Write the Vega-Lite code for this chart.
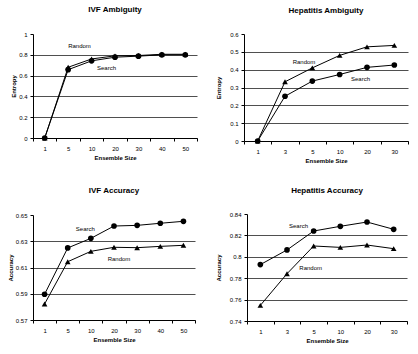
{
  "$schema": "https://vega.github.io/schema/vega-lite/v6.json",
  "padding": {"left": 7, "top": 6, "right": 5, "bottom": 5},
  "background": "white",
  "config": {
    "font": "Liberation Sans",
    "view": {"stroke": null},
    "title": {"fontSize": 8, "fontWeight": "bold", "color": "black", "offset": 17},
    "axis": {
      "labelFontSize": 6, "labelColor": "black", "titleFontSize": 6, "titleFontWeight": "bold", "titleColor": "black",
      "domainColor": "black", "tickColor": "black", "tickSize": 3, "domainWidth": 1, "tickWidth": 1,
      "gridColor": "#222", "gridWidth": 0.8
    },
    "axisY": {"format": "~g", "gridOpacity": {"condition": {"test": "datum.index === 1", "value": 0}, "value": 1}},
    "point": {"filled": true, "color": "black", "opacity": 1},
    "line": {"color": "black", "strokeWidth": 1},
    "text": {"fontSize": 6, "color": "black"}
  },
  "datasets": {
    "ivfAmb": [
      {"size": 1, "value": 0, "series": "Random"},
      {"size": 5, "value": 0.68, "series": "Random"},
      {"size": 10, "value": 0.76, "series": "Random"},
      {"size": 20, "value": 0.79, "series": "Random"},
      {"size": 30, "value": 0.793, "series": "Random"},
      {"size": 40, "value": 0.805, "series": "Random"},
      {"size": 50, "value": 0.805, "series": "Random"},
      {"size": 1, "value": 0, "series": "Search"},
      {"size": 5, "value": 0.657, "series": "Search"},
      {"size": 10, "value": 0.742, "series": "Search"},
      {"size": 20, "value": 0.777, "series": "Search"},
      {"size": 30, "value": 0.787, "series": "Search"},
      {"size": 40, "value": 0.8, "series": "Search"},
      {"size": 50, "value": 0.8, "series": "Search"}
    ],
    "hepAmb": [
      {"size": 1, "value": 0, "series": "Random"},
      {"size": 3, "value": 0.332, "series": "Random"},
      {"size": 5, "value": 0.41, "series": "Random"},
      {"size": 10, "value": 0.48, "series": "Random"},
      {"size": 20, "value": 0.528, "series": "Random"},
      {"size": 30, "value": 0.536, "series": "Random"},
      {"size": 1, "value": 0, "series": "Search"},
      {"size": 3, "value": 0.251, "series": "Search"},
      {"size": 5, "value": 0.336, "series": "Search"},
      {"size": 10, "value": 0.373, "series": "Search"},
      {"size": 20, "value": 0.413, "series": "Search"},
      {"size": 30, "value": 0.426, "series": "Search"}
    ],
    "ivfAcc": [
      {"size": 1, "value": 0.5822, "series": "Random"},
      {"size": 5, "value": 0.6144, "series": "Random"},
      {"size": 10, "value": 0.6223, "series": "Random"},
      {"size": 20, "value": 0.6254, "series": "Random"},
      {"size": 30, "value": 0.6251, "series": "Random"},
      {"size": 40, "value": 0.6261, "series": "Random"},
      {"size": 50, "value": 0.6269, "series": "Random"},
      {"size": 1, "value": 0.5896, "series": "Search"},
      {"size": 5, "value": 0.6249, "series": "Search"},
      {"size": 10, "value": 0.6322, "series": "Search"},
      {"size": 20, "value": 0.6416, "series": "Search"},
      {"size": 30, "value": 0.6421, "series": "Search"},
      {"size": 40, "value": 0.6437, "series": "Search"},
      {"size": 50, "value": 0.6452, "series": "Search"}
    ],
    "hepAcc": [
      {"size": 1, "value": 0.7546, "series": "Random"},
      {"size": 3, "value": 0.7842, "series": "Random"},
      {"size": 5, "value": 0.8101, "series": "Random"},
      {"size": 10, "value": 0.8088, "series": "Random"},
      {"size": 20, "value": 0.811, "series": "Random"},
      {"size": 30, "value": 0.8076, "series": "Random"},
      {"size": 1, "value": 0.7927, "series": "Search"},
      {"size": 3, "value": 0.8064, "series": "Search"},
      {"size": 5, "value": 0.8241, "series": "Search"},
      {"size": 10, "value": 0.8285, "series": "Search"},
      {"size": 20, "value": 0.8325, "series": "Search"},
      {"size": 30, "value": 0.8257, "series": "Search"}
    ]
  },
  "columns": 2,
  "align": "none",
  "spacing": {"row": 24, "column": 17},
  "concat": [
    {
      "title": "IVF Ambiguity",
      "width": 164, "height": 104,
      "data": {"name": "ivfAmb"},
      "encoding": {
        "x": {"field": "size", "type": "ordinal", "scale": {"type": "band", "paddingInner": 0, "paddingOuter": 0},
              "axis": {"title": "Ensemble Size", "labelAngle": 0, "tickBand": "extent", "labelPadding": 4, "titlePadding": 3}},
        "y": {"field": "value", "type": "quantitative", "scale": {"domain": [0, 1]},
              "axis": {"title": "Entropy", "values": [0, 0.2, 0.4, 0.6, 0.8, 1], "grid": true, "minExtent": 14, "maxExtent": 14, "titlePadding": 3, "labelPadding": 3}}
      },
      "layer": [
        {"mark": "line", "encoding": {"detail": {"field": "series"}}},
        {"mark": {"type": "point", "size": 32}, "encoding": {"shape": {"field": "series", "scale": {"domain": ["Random", "Search"], "range": ["triangle-up", "circle"]}, "legend": null}}},
        {"data": {"values": [{"size": 5, "value": 0.88, "label": "Random"}]}, "mark": {"type": "text", "align": "left", "dx": 0}, "encoding": {"text": {"field": "label"}}},
        {"data": {"values": [{"size": 20, "value": 0.674, "label": "Search"}]}, "mark": {"type": "text", "align": "right", "dx": 1}, "encoding": {"text": {"field": "label"}}}
      ]
    },
    {
      "title": {"text": "Hepatitis Ambiguity", "offset": 16},
      "width": 164, "height": 107,
      "data": {"name": "hepAmb"},
      "encoding": {
        "x": {"field": "size", "type": "ordinal", "scale": {"type": "band", "paddingInner": 0, "paddingOuter": 0},
              "axis": {"title": "Ensemble Size", "labelAngle": 0, "tickBand": "extent", "labelPadding": 4, "titlePadding": 3}},
        "y": {"field": "value", "type": "quantitative", "scale": {"domain": [0, 0.6]},
              "axis": {"title": "Entropy", "values": [0, 0.1, 0.2, 0.3, 0.4, 0.5, 0.6], "grid": true, "minExtent": 20, "maxExtent": 20, "titlePadding": 3, "labelPadding": 3}}
      },
      "layer": [
        {"mark": "line", "encoding": {"detail": {"field": "series"}}},
        {"mark": {"type": "point", "size": 32}, "encoding": {"shape": {"field": "series", "scale": {"domain": ["Random", "Search"], "range": ["triangle-up", "circle"]}, "legend": null}}},
        {"data": {"values": [{"size": 5, "value": 0.445, "label": "Random"}]}, "mark": {"type": "text", "align": "right", "dx": 3}, "encoding": {"text": {"field": "label"}}},
        {"data": {"values": [{"size": 20, "value": 0.35, "label": "Search"}]}, "mark": {"type": "text", "align": "right", "dx": 3}, "encoding": {"text": {"field": "label"}}}
      ]
    },
    {
      "title": "IVF Accuracy",
      "width": 162, "height": 105,
      "data": {"name": "ivfAcc"},
      "encoding": {
        "x": {"field": "size", "type": "ordinal", "scale": {"type": "band", "paddingInner": 0, "paddingOuter": 0},
              "axis": {"title": "Ensemble Size", "labelAngle": 0, "tickBand": "extent", "labelPadding": 4, "titlePadding": 3}},
        "y": {"field": "value", "type": "quantitative", "scale": {"domain": [0.57, 0.65]},
              "axis": {"title": "Accuracy", "values": [0.57, 0.59, 0.61, 0.63, 0.65], "grid": true, "minExtent": 17, "maxExtent": 17, "titlePadding": 3, "labelPadding": 3}}
      },
      "layer": [
        {"mark": "line", "encoding": {"detail": {"field": "series"}}},
        {"mark": {"type": "point", "size": 32}, "encoding": {"shape": {"field": "series", "scale": {"domain": ["Random", "Search"], "range": ["triangle-up", "circle"]}, "legend": null}}},
        {"data": {"values": [{"size": 10, "value": 0.6393, "label": "Search"}]}, "mark": {"type": "text", "align": "right", "dx": 4}, "encoding": {"text": {"field": "label"}}},
        {"data": {"values": [{"size": 20, "value": 0.6167, "label": "Random"}]}, "mark": {"type": "text", "align": "center", "dx": 5}, "encoding": {"text": {"field": "label"}}}
      ]
    },
    {
      "title": {"text": "Hepatitis Accuracy", "offset": 16},
      "width": 160, "height": 107,
      "data": {"name": "hepAcc"},
      "encoding": {
        "x": {"field": "size", "type": "ordinal", "scale": {"type": "band", "paddingInner": 0, "paddingOuter": 0},
              "axis": {"title": "Ensemble Size", "labelAngle": 0, "tickBand": "extent", "labelPadding": 4, "titlePadding": 3}},
        "y": {"field": "value", "type": "quantitative", "scale": {"domain": [0.74, 0.84]},
              "axis": {"title": "Accuracy", "values": [0.74, 0.76, 0.78, 0.8, 0.82, 0.84], "grid": true, "minExtent": 23, "maxExtent": 23, "titlePadding": 3, "labelPadding": 3}}
      },
      "layer": [
        {"mark": "line", "encoding": {"detail": {"field": "series"}}},
        {"mark": {"type": "point", "size": 32}, "encoding": {"shape": {"field": "series", "scale": {"domain": ["Random", "Search"], "range": ["triangle-up", "circle"]}, "legend": null}}},
        {"data": {"values": [{"size": 3, "value": 0.8288, "label": "Search"}]}, "mark": {"type": "text", "align": "left", "dx": 2}, "encoding": {"text": {"field": "label"}}},
        {"data": {"values": [{"size": 5, "value": 0.79, "label": "Random"}]}, "mark": {"type": "text", "align": "center", "dx": -3}, "encoding": {"text": {"field": "label"}}}
      ]
    }
  ]
}
